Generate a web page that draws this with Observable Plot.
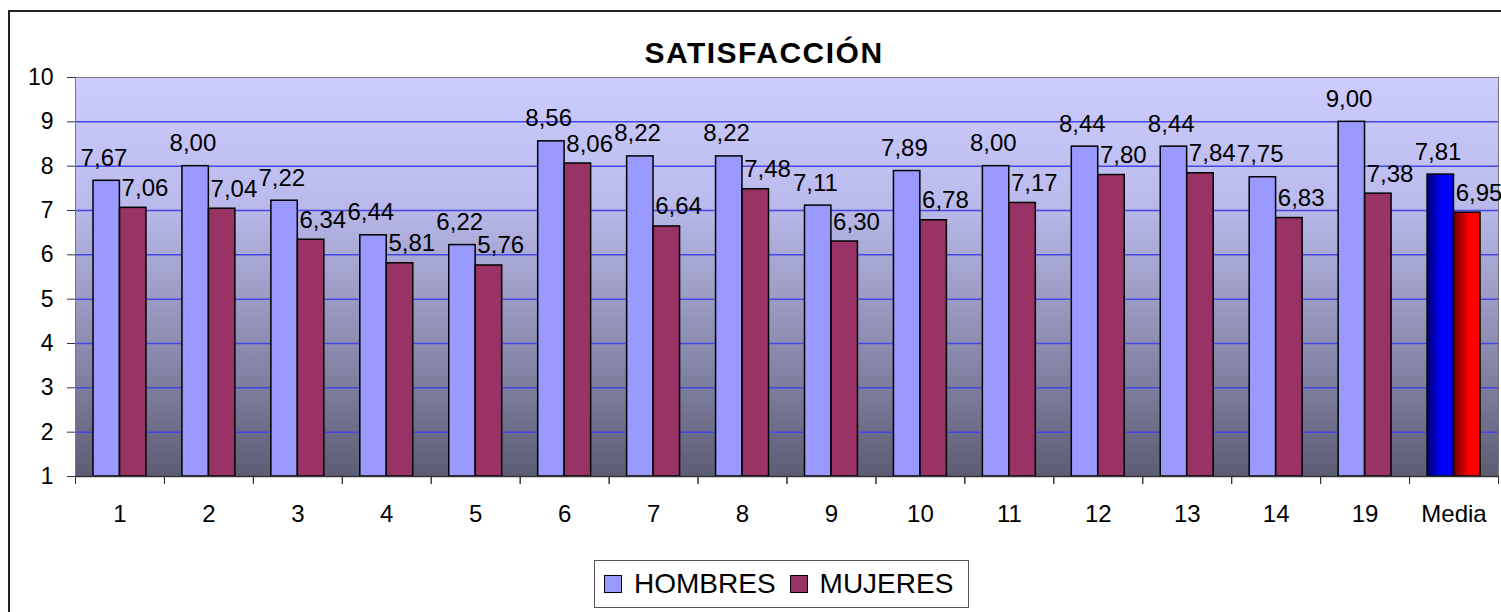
<!DOCTYPE html>
<html><head><meta charset="utf-8">
<script src="https://cdn.jsdelivr.net/npm/d3@7"></script>
<script src="https://cdn.jsdelivr.net/npm/@observablehq/plot@0.6"></script>
<style>
body{margin:0;width:1501px;height:612px;overflow:hidden;position:relative;background:#fff;font-family:"Liberation Sans",Arial,sans-serif;}
#frame{position:absolute;left:8px;top:10px;width:1600px;height:700px;border:2px solid #222;box-sizing:border-box;}
#title{position:absolute;left:0;top:38px;width:1528px;text-align:center;font-weight:bold;font-size:30px;line-height:30px;letter-spacing:1.5px;}
#chart{position:absolute;left:0;top:50px;}
#legend{position:absolute;left:594px;top:560px;width:375px;height:48px;border:1.5px solid #555;box-sizing:border-box;display:flex;align-items:center;font-size:28px;padding-left:9px;}
.item{display:flex;align-items:center;margin-right:14px;}
.sw{width:18px;height:18px;border:1.5px solid #000;box-sizing:border-box;display:inline-block;margin-right:12px;}
</style></head>
<body>
<div id="frame"></div>
<div id="title">SATISFACCIÓN</div>
<div id="chart"></div>
<div id="legend"></div>
<script>
const categories = ["1","2","3","4","5","6","7","8","9","10","11","12","13","14","19","Media"];
const hombres = [7.67, 8.00, 7.22, 6.44, 6.22, 8.56, 8.22, 8.22, 7.11, 7.89, 8.00, 8.44, 8.44, 7.75, 9.00, 7.81];
const mujeres = [7.06, 7.04, 6.34, 5.81, 5.76, 8.06, 6.64, 7.48, 6.30, 6.78, 7.17, 7.80, 7.84, 6.83, 7.38, 6.95];
const seriesNames = ["HOMBRES", "MUJERES"];
const seriesColors = ["#9999FF", "#993366"];
const yTicks = [1, 2, 3, 4, 5, 6, 7, 8, 9, 10];

const data = categories.map((c, i) => ({cat: c, h: hombres[i], m: mujeres[i]}));
const main = data.filter(d => d.cat !== "Media");
const media = data.filter(d => d.cat === "Media");

const W = 1501, ML = 75, MR = 3;
const bw = (W - ML - MR) / categories.length;
const barW = 26.4, outer = 18;
const inner = bw - outer - barW;
const fmt = v => v.toFixed(2).replace(".", ",");

const plot = Plot.plot({
  width: W, height: 490,
  marginLeft: ML, marginRight: MR, marginTop: 27, marginBottom: 64,
  style: {fontFamily: "Liberation Sans, Arial, sans-serif", fontSize: "24px", color: "#000", background: "transparent", overflow: "visible"},
  x: {domain: categories, padding: 0, round: false, label: null},
  y: {domain: [1, 10], label: null},
  marks: [
    Plot.frame({fill: "url(#bgGrad)", stroke: null}),
    Plot.gridY(yTicks.filter(t => t > 1 && t < 10), {stroke: "#4646E8", strokeOpacity: 1, strokeWidth: 1.5}),
    Plot.barY(main, {x: "cat", y1: 1, y2: "h", fill: seriesColors[0], stroke: "#000", strokeWidth: 1.5, insetLeft: outer, insetRight: inner}),
    Plot.barY(main, {x: "cat", y1: 1, y2: "m", fill: seriesColors[1], stroke: "#000", strokeWidth: 1.5, insetLeft: inner, insetRight: outer}),
    Plot.barY(media, {x: "cat", y1: 1, y2: "h", fill: "url(#gBlue)", stroke: "#000", strokeWidth: 1.5, insetLeft: outer, insetRight: inner}),
    Plot.barY(media, {x: "cat", y1: 1, y2: "m", fill: "url(#gRed)", stroke: "#000", strokeWidth: 1.5, insetLeft: inner, insetRight: outer}),
    Plot.frame({stroke: "#777", fill: null}),
    Plot.ruleY([1], {stroke: "#333", strokeWidth: 1.5}),
    Plot.axisY({ticks: yTicks, tickSize: 8, tickPadding: 14, fontSize: 23, stroke: "#333"}),
    Plot.axisX({tickSize: 0, tickPadding: 28, fontSize: 24}),
    Plot.axisX({tickSize: 8, tickPadding: 0, tickFormat: () => "", dx: -bw / 2, stroke: "#333"}),
    Plot.axisX({tickSize: 8, tickPadding: 0, tickFormat: () => "", dx: bw / 2, stroke: "#333"}),
    Plot.text(data, {x: "cat", y: "h", text: d => fmt(d.h), dx: -16, dy: -15, lineAnchor: "bottom", fontSize: 24, fill: "#000"}),
    Plot.text(data, {x: "cat", y: "m", text: d => fmt(d.m), dx: 25, dy: -12, lineAnchor: "bottom", fontSize: 24, fill: "#000"})
  ]
});

const svg = d3.select(plot);
const defs = svg.insert("defs", ":first-child");
function grad(id, horizontal, stops) {
  const g = defs.append("linearGradient").attr("id", id)
    .attr("x1", 0).attr("y1", 0).attr("x2", horizontal ? 1 : 0).attr("y2", horizontal ? 0 : 1);
  stops.forEach(([o, c]) => g.append("stop").attr("offset", o).attr("stop-color", c));
}
grad("bgGrad", false, [[0, "#CCCCFF"], [0.3, "#BBBBEE"], [0.65, "#8F8FB4"], [1, "#5C5C74"]]);
grad("gBlue", true, [[0, "#000070"], [0.55, "#0000FF"], [1, "#0000FF"]]);
grad("gRed", true, [[0, "#700000"], [0.6, "#FF0000"], [1, "#FF0000"]]);
document.getElementById("chart").appendChild(plot);

const legend = document.getElementById("legend");
seriesNames.forEach((name, i) => {
  const item = document.createElement("span");
  item.className = "item";
  const sw = document.createElement("span");
  sw.className = "sw";
  sw.style.background = seriesColors[i];
  item.appendChild(sw);
  item.appendChild(document.createTextNode(name));
  legend.appendChild(item);
});
</script>
</body></html>
